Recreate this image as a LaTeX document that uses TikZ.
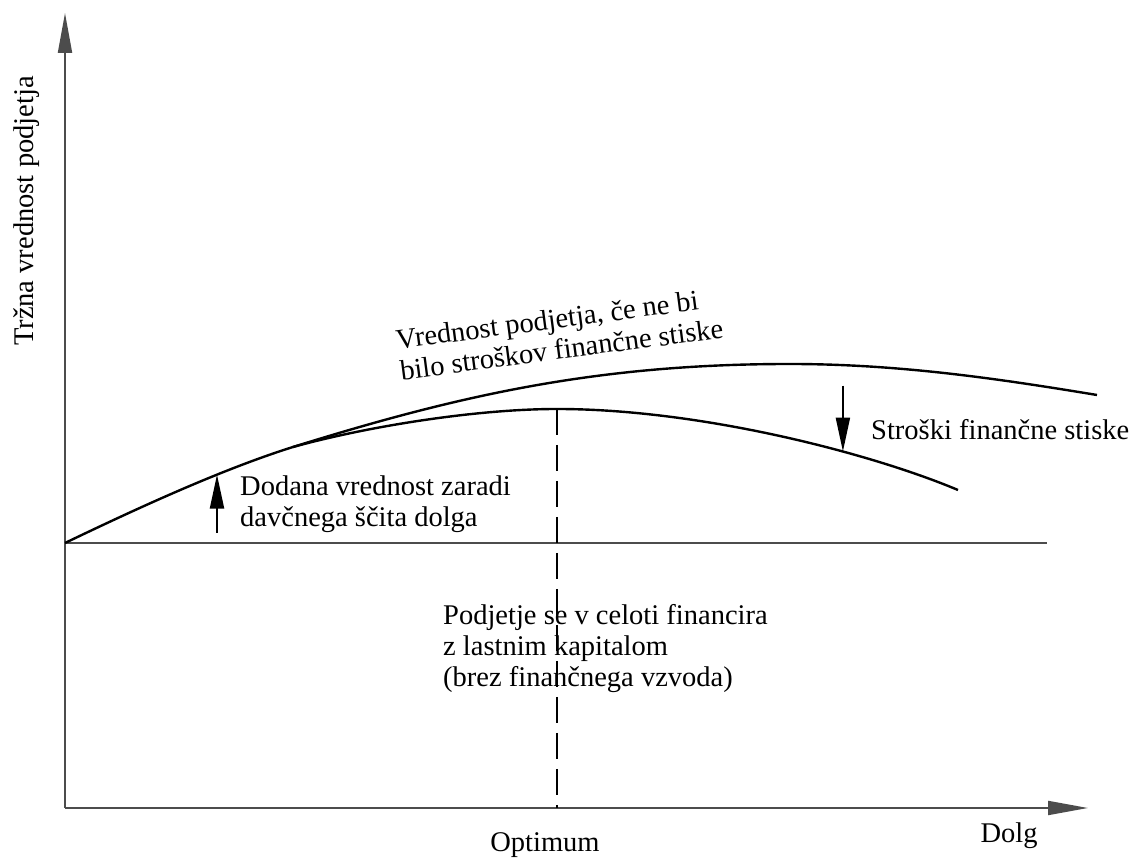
\documentclass[tikz,border=0pt]{standalone}
\usepackage{fontspec}
\setmainfont{Liberation Serif}
\usetikzlibrary{arrows.meta}

\begin{document}
\begin{tikzpicture}[x=1pt,y=1pt,
		os/.style={line width=2pt, black!70, -{Triangle[length=40pt,width=14pt]}},
		krivulja/.style={line width=2.4pt, line join=round},
		puscica/.style={line width=2.2pt, -{Triangle[length=34pt,width=14pt]}},
		besedilo/.style={font=\fontsize{28.5}{31}\selectfont, inner sep=0pt}]
		\useasboundingbox (0,0) rectangle (1136,859);

		% Osi diagrama (vrednost podjetja / dolg)
		\coordinate (O)    at (65,51);
		\coordinate (yTop) at (65,846);
		\coordinate (xEnd) at (1088,51);
		\draw[os] (O) -- (yTop);
		\draw[os] (O) -- (xEnd);

		% Vrednost podjetja brez financnega vzvoda (vodoravna crta)
		\coordinate (baseL) at (65,316);
		\coordinate (baseR) at (1047,316);
		\draw[line width=2pt, black!70] (baseL) -- (baseR);

		% Skupni zacetek obeh krivulj do razcepa
		\draw[krivulja] (baseL) .. controls (140,352) and (223,390) .. (293,412) coordinate[pos=0.656] (scitVrh) coordinate (razcep);
		% Zgornja krivulja: vrednost brez stroskov financne stiske
		\draw[krivulja] (razcep) .. controls (463,465) and (600,495) .. (790,495)
			.. controls (900,495) and (1000,480) .. (1097,464);
		% Spodnja krivulja: dejanska vrednost podjetja
		\draw[krivulja] (razcep) .. controls (373,434) and (480,450) .. (557,450) coordinate (vrh)
			.. controls (700,450) and (870,406) .. (958,369) coordinate[pos=0.657] (stiskaVrh);

		% Optimum (crtkana navpicnica)
		\coordinate (optBot) at (557,51);
		\draw[line width=1.8pt, dash pattern=on 26pt off 10pt] (vrh) -- (optBot);

		% Puscici: davcni scit navzgor, stroski stiske navzdol
		\draw[puscica] ([yshift=-58pt]scitVrh) -- (scitVrh);
		\draw[puscica] ([yshift=66pt]stiskaVrh) -- (stiskaVrh);

		% Oznake osi
		\node[besedilo, rotate=90, anchor=base] (osY) at (33,648) {Tržna vrednost podjetja};
		\node[besedilo, anchor=base] (osX) at (1009,16) {Dolg};
		\node[besedilo, anchor=base] (optimum) at (545,7) {Optimum};

		% Opisi krivulj in puscic
		\node[besedilo, rotate=7.5, anchor=west, align=left] (brezStiske) at (398,504) {Vrednost podjetja, če ne bi\\bilo stroškov finančne stiske};
		\node[besedilo, anchor=base west] (stroski) at (871,419) {Stroški finančne stiske};
		\node[besedilo, anchor=west, align=left] (dodana) at (240,355) {Dodana vrednost zaradi\\davčnega ščita dolga};
		\node[besedilo, anchor=west, align=left] (lastni) at (443,210) {Podjetje se v celoti financira\\z lastnim kapitalom\\(brez finančnega vzvoda)};
	\end{tikzpicture}
\end{document}
